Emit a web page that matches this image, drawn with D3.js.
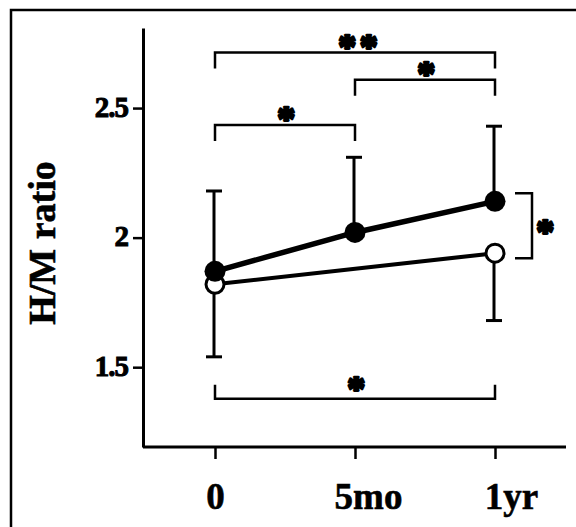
<!DOCTYPE html>
<html>
<head>
<meta charset="utf-8">
<script src="https://cdn.jsdelivr.net/npm/d3@7"></script>
<style>
  body { margin: 0; background: #fff; }
  svg { display: block; }
  text { font-family: "Liberation Serif", "Times New Roman", serif; font-weight: bold; fill: #000; }
</style>
</head>
<body>
<div id="chart"></div>
<script>
// time points on the x axis
let timepoints = ["0", "5mo", "1yr"];

// filled circles: measured at all three time points (SD drawn upward)
let filledMean = [1.87, 2.02, 2.14];
let filledSD = [0.31, 0.29, 0.29];

// open circles: measured at baseline and 1 year only (SD drawn downward)
let openTimes = ["0", "1yr"];
let openMean = [1.82, 1.94];
let openSD = [0.28, 0.26];

let yTicks = [1.5, 2, 2.5];

// significance brackets between time points
let bracketFrom = ["0", "5mo", "0", "0"];
let bracketTo = ["1yr", "1yr", "5mo", "1yr"];
let bracketLevel = [2.714, 2.609, 2.435, 1.378];
let bracketLabel = ["**", "*", "*", "*"];

let width = 576, height = 527;

let svg = d3.select("#chart").append("svg")
  .attr("width", width)
  .attr("height", height);

// outer frame (runs off the right and bottom edge)
svg.append("rect")
  .attr("x", 11).attr("y", 10)
  .attr("width", 700).attr("height", 700)
  .attr("fill", "none")
  .attr("stroke", "#000")
  .attr("stroke-width", 2.5);

let x = d3.scalePoint().domain(timepoints).range([145, 565]).padding(0.5);
let y = d3.scaleLinear().domain([1.192, 2.809]).range([447, 28]);

// y axis
let yAxis = svg.append("g")
  .attr("transform", "translate(143,0)")
  .call(d3.axisLeft(y).tickValues(yTicks).tickSize(10).tickSizeOuter(0).tickPadding(5).tickFormat(d => d));
yAxis.select(".domain").attr("stroke-width", 3);
yAxis.selectAll(".tick line").attr("stroke-width", 2.5);
yAxis.selectAll(".tick text")
  .attr("font-size", 29)
  .attr("letter-spacing", "-1px")
  .attr("stroke", "#000")
  .attr("stroke-width", 1)
  .attr("dy", "0.28em");

// x axis
let labelNudge = { "0": 0, "5mo": 13, "1yr": 16 };
let xAxis = svg.append("g")
  .attr("transform", "translate(0,447)")
  .call(d3.axisBottom(x).tickSize(12).tickSizeOuter(0));
xAxis.select(".domain").attr("d", "M143,0H566").attr("stroke-width", 3);
xAxis.selectAll(".tick line").attr("stroke-width", 2.5);
xAxis.selectAll(".tick text")
  .attr("font-size", 37)
  .attr("y", 62)
  .attr("dy", 0)
  .attr("stroke", "#000")
  .attr("stroke-width", 0.6)
  .attr("x", d => labelNudge[d]);

// y axis title
svg.append("text")
  .attr("transform", "translate(55,243) rotate(-90)")
  .attr("text-anchor", "middle")
  .attr("font-size", 38)
  .attr("stroke", "#000")
  .attr("stroke-width", 0.6)
  .text("H/M ratio");

let filled = timepoints.map((t, i) => ({ t: t, m: filledMean[i], sd: filledSD[i] }));
let open = openTimes.map((t, i) => ({ t: t, m: openMean[i], sd: openSD[i] }));

// error bars: filled up, open down
function errorBars(data, dir) {
  let g = svg.append("g").attr("stroke", "#000");
  g.selectAll("line.bar").data(data).enter().append("line")
    .attr("x1", d => x(d.t) - 1).attr("x2", d => x(d.t) - 1)
    .attr("y1", d => y(d.m)).attr("y2", d => y(d.m + dir * d.sd))
    .attr("stroke-width", 3);
  g.selectAll("line.cap").data(data).enter().append("line")
    .attr("x1", d => x(d.t) - 9).attr("x2", d => x(d.t) + 7)
    .attr("y1", d => y(d.m + dir * d.sd)).attr("y2", d => y(d.m + dir * d.sd))
    .attr("stroke-width", 3);
}
errorBars(filled, 1);
errorBars(open, -1);

let line = d3.line().x(d => x(d.t)).y(d => y(d.m));

svg.append("path").datum(open)
  .attr("d", line).attr("fill", "none")
  .attr("stroke", "#000").attr("stroke-width", 4);
svg.append("path").datum(filled)
  .attr("d", line).attr("fill", "none")
  .attr("stroke", "#000").attr("stroke-width", 5.5);

svg.selectAll("circle.open").data(open).enter().append("circle")
  .attr("cx", d => x(d.t)).attr("cy", d => y(d.m)).attr("r", 9)
  .attr("fill", "#fff").attr("stroke", "#000").attr("stroke-width", 3);
svg.selectAll("circle.filled").data(filled).enter().append("circle")
  .attr("cx", d => x(d.t)).attr("cy", d => y(d.m)).attr("r", 10.5)
  .attr("fill", "#000");

// significance brackets
let starSize = 36;
function star(cx, cy, lab) {
  svg.append("text")
    .attr("x", cx)
    .attr("y", cy + starSize * 0.5)
    .attr("text-anchor", "middle")
    .attr("font-size", starSize)
    .attr("letter-spacing", "3.5px")
    .attr("dx", lab.length > 1 ? 1.75 : 0)
    .attr("stroke", "#000")
    .attr("stroke-width", 2.6)
    .attr("stroke-linejoin", "round")
    .text(lab);
}
bracketLabel.forEach((lab, i) => {
  let x0 = x(bracketFrom[i]), x1 = x(bracketTo[i]);
  let yy = y(bracketLevel[i]);
  let up = bracketLevel[i] > 2; // top brackets have legs down
  let leg = up ? 16 : -14;
  svg.append("path")
    .attr("d", `M${x0},${yy + leg}V${yy}H${x1}V${yy + leg}`)
    .attr("fill", "none").attr("stroke", "#000").attr("stroke-width", 2.5);
  star((x0 + x1) / 2 + 3, up ? yy - 12 : yy - 16, lab);
});

// bracket between the two groups at 1 yr
let bx = x("1yr");
let bTop = y(filledMean[2]) - 8, bBot = y(openMean[1]) + 5;
svg.append("path")
  .attr("d", `M${bx + 20},${bTop}H${bx + 37}V${bBot}H${bx + 20}`)
  .attr("fill", "none").attr("stroke", "#000").attr("stroke-width", 2.5);
star(bx + 52, (bTop + bBot) / 2, "*");
</script>
</body>
</html>
